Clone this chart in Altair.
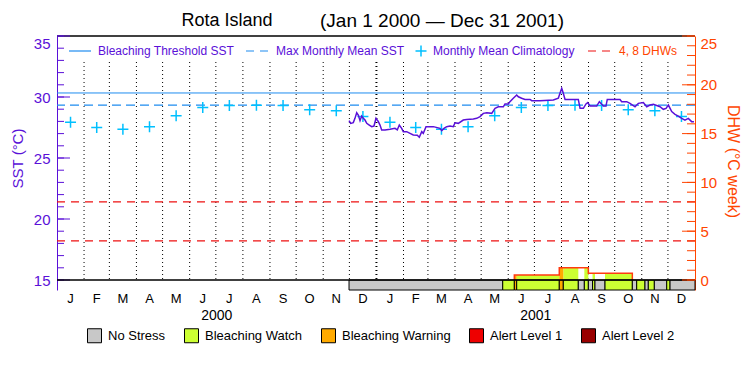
import altair as alt
import pandas as pd

FONT = "Liberation Sans"
PURPLE = "#5a10d8"
BLUE = "#1e8cf0"
CYAN = "#00c0ff"
RED = "#ee1111"
ORANGE = "#ff4500"
OUTLINE = "#ff3a10"

ORIGIN = pd.Timestamp("2000-01-01")

# ---- data (days since 2000-01-01) ----
SST_DAY = [334.6, 336.5, 339.5, 341.4, 343.4, 345.2, 347.2, 349.1, 351.0, 352.9,
           354.9, 357.8, 360.6, 363.2, 365.5, 368.2, 370.1, 372.0, 375.8, 381.5,
           387.3, 389.9, 392.2, 394.9, 396.8, 400.7, 404.5, 408.2, 412.8, 415.1,
           417.9, 419.7, 422.8, 431.2, 438.8, 440.8, 443.4, 446.5, 450.3, 454.1,
           456.0, 459.8, 465.5, 469.4, 477.0, 480.9, 484.7, 488.5, 492.4, 498.1,
           501.9, 505.6, 511.4, 513.3, 517.1, 519.0, 522.8, 526.7, 528.6, 532.4,
           536.2, 542.0, 543.9, 553.4, 568.7, 574.4, 576.3, 578.3, 580.1, 582.1,
           597.3, 599.3, 603.1, 606.1, 608.1, 610.7, 618.4, 621.4, 626.0, 629.0,
           630.5, 645.1, 647.0, 652.8, 656.5, 662.3, 666.1, 671.8, 675.7, 679.5,
           683.3, 687.1, 690.9, 694.7, 697.8, 700.5, 704.3, 708.1, 711.9, 715.8,
           719.5, 723.3, 727.2, 729.8]
SST_VAL = [28.06, 27.84, 27.90, 28.25, 28.71, 28.52, 28.06, 28.44, 28.25, 28.11,
           27.84, 27.70, 27.57, 27.62, 28.25, 27.98, 27.70, 27.30, 27.30, 27.35,
           27.43, 27.30, 27.70, 27.43, 27.16, 27.16, 27.02, 26.89, 26.86, 26.70,
           27.16, 27.02, 27.57, 27.57, 27.43, 27.24, 27.43, 27.57, 27.62, 27.57,
           27.89, 27.84, 28.11, 28.16, 28.20, 28.25, 28.39, 28.66, 28.71, 28.66,
           29.07, 29.20, 29.20, 29.43, 29.43, 29.62, 29.90, 30.16, 30.02, 29.90,
           29.80, 29.80, 29.70, 29.70, 29.75, 29.90, 30.30, 30.71, 30.30, 29.80,
           29.80, 29.07, 29.07, 29.43, 29.54, 29.26, 29.26, 29.62, 29.26, 29.26,
           29.80, 29.80, 29.62, 29.62, 29.48, 29.20, 29.48, 29.54, 29.20, 29.34,
           29.40, 29.30, 29.20, 28.99, 29.07, 29.34, 28.80, 28.58, 28.44, 28.25,
           28.11, 28.25, 27.98, 27.98]

CLIM = [27.93, 27.50, 27.35, 27.57, 28.47, 29.14, 29.30, 29.32, 29.30, 28.96, 28.87, 28.40]
MMM = 29.33
THRESHOLD = 30.33
DHW_LINES = [4, 8]

STATUS_NAMES = ["No Stress", "Bleaching Watch", "Bleaching Warning", "Alert Level 1", "Alert Level 2"]
STATUS_COLORS = ["#c8c8c8", "#ccff33", "#ffaa00", "#ee0000", "#990000"]
DHW_FILL = ["#ffffff", "#ccff33", "#ffaa00", "#ee0000", "#990000"]

SEG_START = [334.6, 510.7, 524.0, 526.7, 575.5, 580.1, 597.3, 604.2, 608.8, 613.6,
             616.4, 627.9, 659.2, 664.2, 673.7, 677.5, 684.4, 698.6, 702.4]
SEG_END = [510.7, 524.0, 526.7, 575.5, 580.1, 597.3, 604.2, 608.8, 613.6, 616.4,
           627.9, 659.2, 664.2, 673.7, 677.5, 684.4, 698.6, 702.4, 731.0]
SEG_STATUS = ["No Stress", "Bleaching Watch", "Bleaching Warning", "Bleaching Watch",
              "Bleaching Warning", "Bleaching Watch", "No Stress", "Bleaching Watch",
              "No Stress", "Bleaching Watch", "No Stress", "Bleaching Watch", "No Stress",
              "Bleaching Watch", "No Stress", "Bleaching Watch", "No Stress",
              "Bleaching Watch", "No Stress"]

DHW_START = [524.0, 575.5, 608.8]
DHW_END = [575.5, 608.8, 659.2]
DHW_VAL = [0.5, 1.25, 0.7]

MONTH_LETTERS = ["J", "F", "M", "A", "M", "J", "J", "A", "S", "O", "N", "D"]
YEARS = ["2000", "2001"]
SST_TICKS = list(range(15, 36))
SST_MAJOR = [15, 20, 25, 30, 35]
DHW_TICKS = list(range(0, 26))
DHW_MAJOR = [0, 5, 10, 15, 20, 25]

# ---- layout ----
W, H = 638, 254
BAR_PX = 10
SST_MIN = 15 - 20 * BAR_PX / (H - BAR_PX)
DHW_MIN = 0 - 25 * BAR_PX / (H - BAR_PX)


def to_date(days):
    return list(ORIGIN + pd.to_timedelta(pd.Series(days, dtype=float), unit="D"))


x_scale = alt.Scale(domain=[alt.DateTime(year=2000, month=1, date=1),
                            alt.DateTime(year=2002, month=1, date=1)])
sst_scale = alt.Scale(domain=[SST_MIN, 35], nice=False, zero=False)
dhw_scale = alt.Scale(domain=[DHW_MIN, 25], nice=False, zero=False)

sst_axis = alt.Axis(orient="left", values=SST_MAJOR, grid=False, ticks=False, tickSize=0,
                    domainColor=PURPLE, domainWidth=1, labelColor=PURPLE, labelFont=FONT,
                    labelFontSize=15, labelPadding=7, labelFlush=True,
                    title="SST (°C)", titleColor=PURPLE, titleFont=FONT, titleFontSize=15,
                    titleFontWeight="normal", titleX=-40, titleY=122, titleAngle=270,
                    titleAlign="center", titleBaseline="middle")
dhw_axis = alt.Axis(orient="right", values=DHW_MAJOR, grid=False, ticks=False, tickSize=0,
                    domainColor=ORANGE, domainWidth=1, labelColor=ORANGE, labelFont=FONT,
                    labelFontSize=15, labelPadding=5, labelFlush=True,
                    title="DHW (°C week)", titleColor=ORANGE, titleFont=FONT, titleFontSize=16,
                    titleFontWeight="normal", titleX=37, titleY=125, titleAngle=90,
                    titleAlign="center", titleBaseline="middle")


def X(f):
    return alt.X(f, type="temporal", scale=x_scale, axis=None)


def YS(f):
    return alt.Y(f, type="quantitative", scale=sst_scale, axis=sst_axis)


def YD(f):
    return alt.Y(f, type="quantitative", scale=dhw_scale, axis=dhw_axis)


month_starts = pd.date_range("2000-01-01", "2002-01-01", freq="MS")
mids = list(month_starts[:-1] + (month_starts[1:] - month_starts[:-1]) / 2)
year_start = pd.Timestamp("2001-01-01")
grid_dates = [d for d in month_starts[1:-1] if d != year_start]
year_starts = pd.to_datetime(["2000-01-01", "2001-01-01", "2002-01-01"])
year_mids = list(year_starts[:-1] + (year_starts[1:] - year_starts[:-1]) / 2)

one = pd.DataFrame({"k": [0]})

# ---- SST group ----
grid = alt.Chart(pd.DataFrame({"date": grid_dates})).mark_rule(
    color="black", strokeDash=[1, 3], strokeWidth=1).encode(
    x=X("date"), y=alt.value(26), y2=alt.value(244))
ygrid = alt.Chart(pd.DataFrame({"date": [year_start]})).mark_rule(
    color="black", strokeDash=[1, 3], strokeWidth=2).encode(
    x=X("date"), y=alt.value(26), y2=alt.value(244))
thr = alt.Chart(pd.DataFrame({"v": [THRESHOLD]})).mark_rule(color=BLUE, strokeWidth=1).encode(y=YS("v"))
mmm = alt.Chart(pd.DataFrame({"v": [MMM]})).mark_rule(
    color=BLUE, strokeWidth=1.2, strokeDash=[9, 5]).encode(y=YS("v"))
clim_df = pd.DataFrame({"date": mids, "v": CLIM * 2})
PLUS = "M-1,0L1,0M0,-1L0,1"
clim = alt.Chart(clim_df).mark_point(shape=PLUS, filled=False, size=121, strokeWidth=1.5,
                                     color=CYAN, opacity=1).encode(x=X("date"), y=YS("v"))
sst_df = pd.DataFrame({"date": to_date(SST_DAY), "v": SST_VAL})
sst_line = alt.Chart(sst_df).mark_line(color=PURPLE, strokeWidth=1.5).encode(x=X("date"), y=YS("v"))
top_frame = alt.Chart(pd.DataFrame({"v": [35]})).mark_rule(color="black", strokeWidth=1.5).encode(y=YS("v"))
lt_minor = alt.Chart(pd.DataFrame({"v": SST_TICKS})).mark_rule(color=PURPLE).encode(
    y=YS("v"), x=alt.value(0), x2=alt.value(7))
lt_major = alt.Chart(pd.DataFrame({"v": SST_MAJOR})).mark_rule(color=PURPLE).encode(
    y=YS("v"), x=alt.value(0), x2=alt.value(13))


def label(text, x, y, color="black", size=12, align="center"):
    return alt.Chart(one).mark_text(text=text, font=FONT, fontSize=size, color=color,
                                    align=align, baseline="middle").encode(
        x=alt.value(x), y=alt.value(y))


def seg(x1, x2, color, dash=None):
    kw = {"color": color, "strokeWidth": 1.2}
    if dash:
        kw["strokeDash"] = dash
    return alt.Chart(one).mark_rule(**kw).encode(x=alt.value(x1), x2=alt.value(x2), y=alt.value(15))


title1 = label("Rota Island", 170, -15, size=18)
title2 = label("(Jan 1 2000 — Dec 31 2001)", 385, -15, size=19)
leg = [
    seg(12, 34, BLUE), label("Bleaching Threshold SST", 41, 15, PURPLE, 12, "left"),
    seg(189, 213, BLUE, [8, 6]), label("Max Monthly Mean SST", 219, 15, PURPLE, 12, "left"),
    alt.Chart(one).mark_point(shape=PLUS, filled=False, size=121, strokeWidth=1.5,
                              color=CYAN, opacity=1).encode(x=alt.value(364), y=alt.value(15)),
    label("Monthly Mean Climatology", 376, 15, PURPLE, 12, "left"),
    seg(531, 555, RED, [8, 6]), label("4, 8 DHWs", 562, 15, ORANGE, 12, "left"),
]
months = alt.Chart(pd.DataFrame({"date": mids, "label": MONTH_LETTERS * 2})).mark_text(
    font=FONT, fontSize=13, color="black", baseline="middle").encode(
    x=X("date"), y=alt.value(263), text="label")
years = alt.Chart(pd.DataFrame({"date": year_mids, "label": YEARS})).mark_text(
    font=FONT, fontSize=14, color="black", baseline="middle").encode(
    x=X("date"), y=alt.value(280), text="label")

sst_group = alt.layer(grid, ygrid, thr, mmm, clim, sst_line, top_frame, lt_minor, lt_major,
                      title1, title2, *leg, months, years)

# ---- DHW group ----
fills = []
for s, e, st in zip(SEG_START, SEG_END, SEG_STATUS):
    for ds, de, dv in zip(DHW_START, DHW_END, DHW_VAL):
        a, b = max(s, ds), min(e, de)
        if b > a:
            fills.append((a, b, 0.0, dv, st))
fill_df = pd.DataFrame(fills, columns=["s", "e", "lo", "hi", "status"])
fill_df["start"] = to_date(fill_df["s"])
fill_df["end"] = to_date(fill_df["e"])
fill_layers = []
for name, col in zip(STATUS_NAMES, DHW_FILL):
    sub = fill_df[fill_df["status"] == name][["start", "end", "lo", "hi"]]
    if len(sub):
        fill_layers.append(alt.Chart(sub).mark_rect(color=col).encode(
            x=X("start"), x2="end", y=YD("lo"), y2="hi"))

step_days = [DHW_START[0]] + DHW_START + [DHW_END[-1]]
step_vals = [0.0] + DHW_VAL + [0.0]
step_df = pd.DataFrame({"date": to_date(step_days), "v": step_vals, "i": list(range(len(step_vals)))})
dhw_outline = alt.Chart(step_df).mark_line(color=OUTLINE, strokeWidth=1.5, interpolate="step-after").encode(
    x=X("date"), y=YD("v"), order="i:Q")

dhw_dash = alt.Chart(pd.DataFrame({"v": DHW_LINES})).mark_rule(
    color=RED, strokeWidth=1.2, strokeDash=[8, 6]).encode(y=YD("v"))

bar_df = pd.DataFrame({"start": to_date(SEG_START), "end": to_date(SEG_END),
                       "lo": [DHW_MIN] * len(SEG_START), "hi": [0.0] * len(SEG_START),
                       "status": SEG_STATUS})
status_bar = alt.Chart(bar_df).mark_rect(stroke="black", strokeWidth=1).encode(
    x=X("start"), x2="end", y=YD("lo"), y2="hi",
    color=alt.Color("status:N", scale=alt.Scale(domain=STATUS_NAMES, range=STATUS_COLORS),
                    legend=alt.Legend(title=None, orient="none", legendX=30, legendY=292,
                                      direction="horizontal", symbolType="square",
                                      symbolSize=196, symbolStrokeColor="black",
                                      symbolStrokeWidth=1, symbolOpacity=1,
                                      labelFont=FONT, labelFontSize=13, labelColor="black",
                                      labelOffset=6, columnPadding=16, padding=0)))
bottom_frame = alt.Chart(pd.DataFrame({"v": [0]})).mark_rule(color="black", strokeWidth=1.5).encode(y=YD("v"))
rt_minor = alt.Chart(pd.DataFrame({"v": DHW_TICKS})).mark_rule(color=ORANGE).encode(
    y=YD("v"), x=alt.value(W - 8), x2=alt.value(W))
rt_major = alt.Chart(pd.DataFrame({"v": DHW_MAJOR})).mark_rule(color=ORANGE).encode(
    y=YD("v"), x=alt.value(W - 13), x2=alt.value(W))

dhw_group = alt.layer(*fill_layers, dhw_outline, dhw_dash, status_bar, bottom_frame, rt_minor, rt_major)

chart = alt.layer(sst_group, dhw_group).resolve_scale(y="independent").properties(
    width=W, height=H,
    autosize=alt.AutoSizeParams(type="none"),
    padding={"left": 49, "top": 28, "right": 47, "bottom": 65},
).configure_view(stroke=None)

chart.save("out.html", embed_options={"renderer": "svg", "actions": False})
